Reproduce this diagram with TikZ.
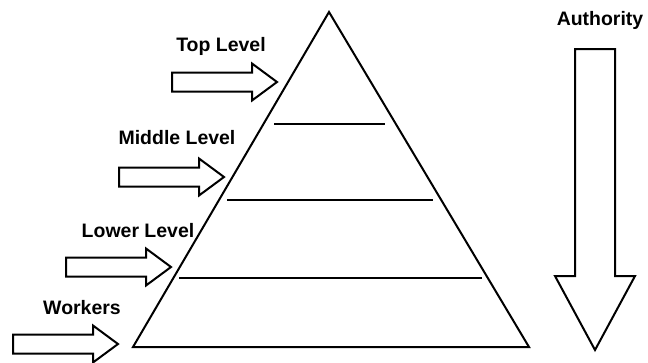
\documentclass[tikz,border=0pt]{standalone}
\usepackage{fontspec}
\setmainfont{Liberation Sans}

\begin{document}
\begin{tikzpicture}[x=0.75pt,y=-0.75pt,line width=1.5pt,
    lbl/.style={font=\bfseries\fontsize{14.6}{16}\selectfont,anchor=base,inner sep=0pt},
    blk/.style={draw,line join=miter,fill=white},
    pics/lvlarrow/.style={code={
      \draw[blk] (0,-9.5) -- (80,-9.5) -- (80,-18.5) -- (105,0) -- (80,18.5) -- (80,9.5) -- (0,9.5) -- cycle;}}]
  \useasboundingbox (0,0) rectangle (648,362);
  % pyramid
  \coordinate (apex) at (329,12);
  \coordinate (bl) at (133,347);
  \coordinate (br) at (529,347);
  \draw[line join=miter] (apex) -- (bl) -- (br) -- cycle;
  \draw (274,124) -- (385,124);
  \draw (227,200) -- (433,200);
  \draw (179,278) -- (482,278);
  % levels
  \node[lbl] (top) at (221,51) {Top Level};
  \node[lbl] (mid) at (177,144) {Middle Level};
  \node[lbl] (low) at (138,237) {Lower Level};
  \node[lbl] (wrk) at (82,314) {Workers};
  \pic at (172,82) {lvlarrow};
  \pic at (119,177) {lvlarrow};
  \pic at (66,267) {lvlarrow};
  \pic at (13,344) {lvlarrow};
  % authority
  \node[lbl] (auth) at (600,25) {Authority};
  \draw[blk] (575,49) -- (615,49) -- (615,276) -- (635,276) -- (595,350)
    -- (555,276) -- (575,276) -- cycle;
\end{tikzpicture}
\end{document}
